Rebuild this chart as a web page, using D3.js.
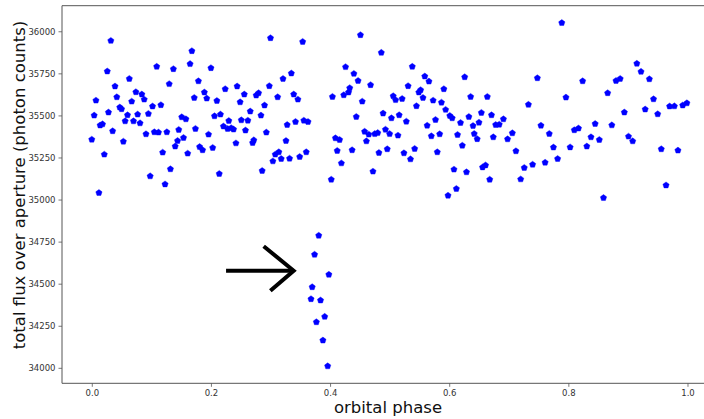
<!DOCTYPE html>
<html>
<head>
<meta charset="utf-8">
<script src="https://cdn.jsdelivr.net/npm/d3@7"></script>
<style>
  html, body { margin: 0; padding: 0; background: #fff; }
  svg { display: block; font-family: "DejaVu Sans", sans-serif; }
</style>
</head>
<body>
<svg id="chart" width="704" height="419"></svg>
<script>
// ---- data ----
const phase = [
  0.032,0.026,0.063,0.039,0.007,0.042,0.074,0.084,0.088,0.067,0.047,0.050,0.102,0.116,0.004,0.028,0.060,0.077,0.095,0.056,
  0.070,0.081,0.014,0.018,0.035,0.091,0.105,0.112,0.126,0.146,0.000,0.053,0.144,0.154,0.140,0.021,0.119,0.132,0.098,0.123,
  0.012,0.109,0.137,0.130,0.151,
  0.158,0.161,0.168,0.165,0.200,0.300,0.179,0.189,0.172,0.193,0.210,0.224,0.244,0.256,0.249,0.276,0.280,0.298,0.321,0.335,
  0.312,0.339,0.290,0.266,0.284,0.216,0.206,0.251,0.262,0.230,0.221,0.228,0.234,0.238,0.258,0.293,0.328,0.174,0.196,0.242,
  0.272,0.270,0.326,0.181,0.186,0.203,0.308,0.314,0.304,0.318,0.332,0.286,0.214,
  0.354,0.346,0.342,0.356,0.363,0.349,0.360,0.451,0.486,0.426,0.440,0.447,0.468,0.433,0.431,0.423,0.404,0.454,0.506,0.510,
  0.444,0.489,0.503,0.458,0.465,0.461,0.475,0.480,0.493,0.500,0.514,0.409,0.416,0.412,0.437,0.419,0.482,0.496,0.472,0.402,
  0.516,0.521,0.538,0.559,0.566,0.531,0.552,0.549,0.556,0.545,0.573,0.587,0.591,0.626,0.636,0.664,0.594,0.601,0.605,0.528,
  0.577,0.563,0.619,0.633,0.640,0.650,0.654,0.671,0.678,0.684,0.691,0.570,0.584,0.614,0.642,0.647,0.674,0.622,0.524,0.542,
  0.535,0.580,0.608,0.629,0.656,0.661,0.668,0.612,0.598,
  0.789,0.748,0.824,0.796,0.866,0.733,0.754,0.845,0.706,0.698,0.768,0.810,0.817,0.838,0.852,0.712,0.775,0.803,0.831,0.782,
  0.761,0.740,0.726,0.720,0.859,
  0.915,0.922,0.880,0.887,0.936,0.943,0.894,0.929,0.950,0.970,0.978,0.992,0.999,0.873,0.901,0.908,0.956,0.984,0.964,
  0.381,0.374,0.398,0.370,0.368,0.384,0.391,0.377,0.388,0.396
];
const flux = [
  35944,35762,35718,35673,35589,35609,35639,35625,35595,35583,35548,35538,35554,35562,35500,35518,35502,35506,35510,35466,
  35466,35454,35441,35448,35407,35389,35401,35399,35401,35415,35357,35345,35349,35367,35316,35268,35280,35181,35139,35091,
  35040,35790,35776,35687,35490,
  35478,35274,35883,35806,35782,35960,35704,35637,35605,35601,35587,35657,35673,35625,35579,35619,35633,35675,35718,35750,
  35609,35625,35560,35524,35500,35506,35496,35472,35470,35468,35435,35421,35425,35417,35411,35399,35444,35421,35387,35335,
  35353,35337,35349,35313,35294,35308,35268,35282,35228,35242,35244,35171,35153,
  35938,35595,35462,35470,35462,35254,35282,35978,35873,35788,35748,35706,35681,35663,35637,35621,35611,35583,35615,35592,
  35492,35512,35484,35404,35387,35347,35390,35396,35416,35390,35381,35365,35355,35290,35294,35216,35278,35300,35167,35119,
  35502,35599,35790,35732,35702,35675,35651,35637,35605,35556,35589,35577,35657,35728,35611,35611,35534,35498,35484,35464,
  35474,35440,35456,35492,35438,35458,35516,35502,35444,35446,35478,35377,35389,35385,35391,35360,35371,35321,35276,35302,
  35240,35282,35179,35163,35192,35204,35119,35064,35024,
  36050,35722,35704,35607,35633,35564,35440,35450,35395,35359,35391,35413,35423,35371,35355,35288,35310,35311,35316,35242,
  35220,35208,35189,35121,35010,
  35808,35760,35706,35718,35716,35597,35518,35536,35508,35554,35555,35560,35573,35442,35375,35347,35300,35292,35085,
  34786,34673,34554,34480,34409,34401,34304,34272,34163,34010
];
const xTicks = [0.0, 0.2, 0.4, 0.6, 0.8, 1.0];
const yTicks = [34000, 34250, 34500, 34750, 35000, 35250, 35500, 35750, 36000];
// annotation arrow (data units): tail -> head
const arrowTail = [0.2254, 34577];
const arrowHead = [0.3389, 34577];

// ---- layout ----
const svg = d3.select("#chart");
const padL = 62, padT = 5.7, padB = 383.3;
const pxPerUnit = 595.7;
const x = d3.scaleLinear().domain([-0.05, 1.05]).range([padL, padL + 1.1 * pxPerUnit]);
const y = d3.scaleLinear().domain([33908, 36152]).range([padB, padT]);

const spine = "#555";

// points
const data = phase.map((p, i) => ({p, f: flux[i]}));
function pentagon(r) {
  const pts = d3.range(5).map(k => {
    const a = -Math.PI / 2 + k * 2 * Math.PI / 5;
    return [r * Math.cos(a), r * Math.sin(a)];
  });
  return "M" + pts.map(q => q.join(",")).join("L") + "Z";
}
const pent = pentagon(3.3);
svg.append("g").selectAll("path").data(data).join("path")
  .attr("d", pent)
  .attr("transform", d => `translate(${x(d.p)},${y(d.f)})`)
  .attr("fill", "#0000ff")
  .attr("stroke", "#0000ff")
  .attr("stroke-width", 0.4);

// arrow annotation
const ag = svg.append("g").attr("stroke", "#000").attr("stroke-width", 4).attr("fill", "none")
  .attr("stroke-linecap", "butt");
const hx = x(arrowHead[0]), hy = y(arrowHead[1]);
ag.append("line").attr("x1", x(arrowTail[0])).attr("y1", y(arrowTail[1])).attr("x2", hx).attr("y2", hy);
ag.append("path")
  .attr("d", `M${hx - 30},${hy - 24.5}L${hx},${hy}L${hx - 23.3},${hy + 20}`)
  .attr("stroke-linejoin", "miter");

// axes
const xAxis = d3.axisBottom(x).tickValues(xTicks).tickFormat(d3.format(".1f")).tickSize(3.5).tickPadding(3);
const yAxis = d3.axisLeft(y).tickValues(yTicks).tickFormat(d3.format("d")).tickSize(3.5).tickPadding(3);

const gx = svg.append("g").attr("transform", `translate(0,${padB})`).call(xAxis);
const gy = svg.append("g").attr("transform", `translate(${padL},0)`).call(yAxis);
[gx, gy].forEach(g => {
  g.select(".domain").remove();
  g.selectAll(".tick line").attr("stroke", spine).attr("stroke-width", 0.8);
  g.selectAll(".tick text").attr("fill", "#333").style("font-size", "8.5px")
    .style("font-family", "'DejaVu Sans', sans-serif");
});

// spines (left, top, bottom; right is beyond the canvas)
svg.append("line").attr("x1", padL).attr("x2", padL).attr("y1", padT).attr("y2", padB)
  .attr("stroke", spine).attr("stroke-width", 1);
svg.append("line").attr("x1", padL).attr("x2", 704).attr("y1", padT).attr("y2", padT)
  .attr("stroke", spine).attr("stroke-width", 1);
svg.append("line").attr("x1", padL).attr("x2", 704).attr("y1", padB).attr("y2", padB)
  .attr("stroke", spine).attr("stroke-width", 1);

// axis labels
svg.append("text").attr("x", 388).attr("y", 413)
  .attr("text-anchor", "middle").style("font-size", "16.5px").attr("fill", "#111")
  .text("orbital phase");
svg.append("text").attr("transform", `translate(25,185) rotate(-90)`)
  .attr("text-anchor", "middle").style("font-size", "16.5px").attr("fill", "#111")
  .text("total flux over aperture (photon counts)");
</script>
</body>
</html>
